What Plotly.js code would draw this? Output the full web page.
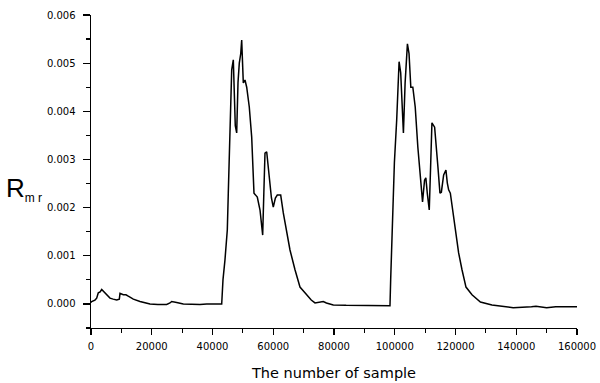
<!DOCTYPE html>
<html>
<head>
<meta charset="utf-8">
<script src="https://cdn.plot.ly/plotly-3.0.1.min.js"></script>
<style>html,body{margin:0;padding:0;background:#fff;}</style>
</head>
<body>
<div id="chart" style="width:600px;height:383px;"></div>
<script>
// Sample index (x) and R_mr value (y)
const sampleIndex = [
  0, 230, 1300, 1870, 2400, 3000, 3520, 4600, 5400, 6250, 7300, 8450, 9320, 9550, 10630, 11500,
  12280, 13930, 16130, 19420, 22000, 24920, 26000, 26560, 28210, 30390, 35880, 38090, 43030,
  43450, 44100, 44880, 45200, 45530, 45900, 46320, 46850, 47200, 47500, 47960, 48400, 48820,
  49300, 49610, 49900, 50140, 50700, 51260, 52110, 52900, 53660, 54200, 54750, 55640, 56200,
  56520, 56900, 57280, 57840, 58700, 59400, 60010, 60700, 61330, 62450, 63310, 64420, 65510,
  67160, 68800, 71010, 72500, 73740, 75500, 76470, 77500, 79770, 84000, 89640, 98430,
  98660, 98990, 99400, 99880, 100640, 101200, 101430, 101960, 102290, 102850, 103410, 104170,
  104700, 105290, 105950, 106740, 107600, 108390, 109150, 109810, 110240, 110710, 111360,
  111800, 112240, 113130, 113560, 114220, 114880, 115340, 116100, 116850, 117310, 117740,
  118300, 119060, 119950, 121030, 122140, 123450, 125430, 128200, 132000, 136000, 139000,
  145000, 146500, 150000, 153000, 160000
];
const rmrValue = [
  0.00003, 0.00005, 0.00008, 0.00012, 0.00023, 0.00025, 0.00030, 0.00023, 0.00017, 0.00012, 0.00010, 0.00008, 0.00010, 0.00022, 0.00019, 0.00019,
  0.00016, 0.00010, 0.00005, 0.00000, -0.00001, -0.00001, 0.00002, 0.00005, 0.00003, 0.00000, -0.00001, 0.00000, 0.00000,
  0.00050, 0.00091, 0.00154, 0.00230, 0.00313, 0.00400, 0.00486, 0.00507, 0.00430, 0.00370, 0.00355, 0.00460, 0.00500,
  0.00520, 0.00548, 0.00510, 0.00459, 0.00465, 0.00450, 0.00409, 0.00347, 0.00230, 0.00225, 0.00222, 0.00195, 0.00160,
  0.00143, 0.00230, 0.00313, 0.00316, 0.00257, 0.00220, 0.00201, 0.00220, 0.00226, 0.00226, 0.00189, 0.00154, 0.00112,
  0.00071, 0.00035, 0.00019, 0.00008, 0.00002, 0.00003, 0.00005, 0.00002, -0.00002, -0.00003, -0.00004, -0.00004,
  0.00051, 0.00119, 0.00200, 0.00293, 0.00382, 0.00450, 0.00503, 0.00480, 0.00423, 0.00355, 0.00459, 0.00540,
  0.00520, 0.00450, 0.00450, 0.00409, 0.00326, 0.00272, 0.00212, 0.00257, 0.00262, 0.00230, 0.00195,
  0.00284, 0.00376, 0.00367, 0.00326, 0.00284, 0.00230, 0.00232, 0.00268, 0.00278, 0.00251, 0.00237,
  0.00230, 0.00195, 0.00147, 0.00106, 0.00071, 0.00035, 0.00019, 0.00004, -0.00002, -0.00006, -0.00008,
  -0.00006, -0.00005, -0.00008, -0.00006, -0.00006
];
const xTitle = "The number of sample";
const yTitleMain = "R";
const yTitleSub = "m r";

const tickFont = {family: "DejaVu Sans, sans-serif", size: 10, color: "#000"};

const data = [{
  x: sampleIndex,
  y: rmrValue,
  type: "scatter",
  mode: "lines",
  line: {color: "#000", width: 1.5},
  hoverinfo: "skip"
}];

const layout = {
  width: 600,
  height: 383,
  margin: {l: 91, r: 23, t: 15, b: 55},
  paper_bgcolor: "#fff",
  plot_bgcolor: "#fff",
  showlegend: false,
  xaxis: {
    range: [0, 160000],
    dtick: 20000,
    tickformat: "d",
    ticks: "outside",
    ticklen: 6,
    tickwidth: 1.3,
    tickcolor: "#000",
    minor: {dtick: 10000, ticks: "outside", ticklen: 4, tickwidth: 1.2, tickcolor: "#000"},
    showline: true,
    linecolor: "#000",
    linewidth: 1.4,
    showgrid: false,
    zeroline: false,
    tickfont: tickFont,
    ticklabelstandoff: 3,
    title: {text: xTitle, font: {family: "DejaVu Sans, sans-serif", size: 14.5, color: "#000"}, standoff: 16}
  },
  yaxis: {
    range: [-0.0005, 0.006],
    dtick: 0.001,
    tickformat: ".3f",
    ticks: "outside",
    ticklen: 7,
    tickwidth: 1.3,
    tickcolor: "#000",
    minor: {dtick: 0.0005, ticks: "outside", ticklen: 4, tickwidth: 1.2, tickcolor: "#000"},
    showline: true,
    linecolor: "#000",
    linewidth: 1.4,
    showgrid: false,
    zeroline: false,
    tickfont: tickFont,
    ticklabelstandoff: 5
  },
  annotations: [{
    xref: "paper", yref: "paper",
    x: -0.178, y: 0.445,
    xanchor: "left", yanchor: "middle",
    showarrow: false,
    text: yTitleMain + '<sub><span style="font-size:12px">' + yTitleSub + '</span></sub>',
    font: {family: "Liberation Sans, Arial, sans-serif", size: 26, color: "#000"}
  }]
};

Plotly.newPlot("chart", data, layout, {displayModeBar: false, staticPlot: true});
</script>
</body>
</html>
